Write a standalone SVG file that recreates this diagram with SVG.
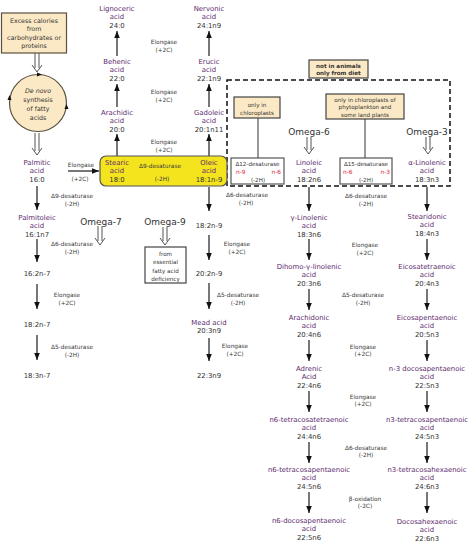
<svg xmlns="http://www.w3.org/2000/svg" width="474" height="545" viewBox="0 0 474 545">
<style>
text{font-family:"DejaVu Sans","Liberation Sans",sans-serif;text-anchor:middle}
.nm{font-size:6.9px;fill:#5e2a6e}
.num{font-size:6.9px;fill:#333}
.enz{font-size:5.8px;fill:#3a3a3a}
.om{font-size:9px;fill:#333}
.bx{font-size:6.3px;fill:#333}
.sm{font-size:5.6px;fill:#333}
.red{font-size:5.8px;fill:#e0203a}
.arr{stroke:#555;stroke-width:1.6;fill:none;marker-end:url(#ah)}
.dbl{stroke:#555;stroke-width:1;fill:none}
.beige{fill:#fbe8c4;stroke:#5a5040;stroke-width:1.2}
.white{fill:#fff;stroke:#555;stroke-width:1.2}
.ln{stroke:#333;stroke-width:1;fill:none}
</style>
<defs>
<marker id="ah" viewBox="0 0 10 8" refX="10" refY="4" markerWidth="7" markerHeight="5.6" markerUnits="userSpaceOnUse" orient="auto"><path d="M0,0 L10,4 L0,8 z" fill="#111"/></marker>
</defs>

<!-- connectors -->
<g id="connectors">
<path class="dbl" d="M35,53 V68 M39,53 V68 M32,65 L37,72 L42,65"/>
<path class="dbl" d="M35,133 V151 M39,133 V151 M32,148 L37,155 L42,148"/>
<path class="dbl" d="M98,226 V241 M102,226 V241 M95,238 L100,245 L105,238"/>
<path class="dbl" d="M163,227 V241 M167,227 V241 M160,238 L165,245 L170,238"/>
<path class="dbl" d="M307,137 V150 M311,137 V150 M304,147 L309,154 L314,147"/>
<path class="dbl" d="M426,137 V150 M430,137 V150 M423,147 L428,154 L433,147"/>
<line class="arr" x1="68" y1="171" x2="99" y2="171"/>
<line class="arr" x1="134" y1="171" x2="178" y2="171"/>
<line class="arr" x1="37" y1="186" x2="37" y2="210"/>
<line class="arr" x1="37" y1="239" x2="37" y2="262"/>
<line class="arr" x1="37" y1="284" x2="37" y2="309"/>
<line class="arr" x1="37" y1="335" x2="37" y2="360"/>
<line class="arr" x1="117" y1="156" x2="117" y2="134"/>
<line class="arr" x1="117" y1="107" x2="117" y2="84"/>
<line class="arr" x1="117" y1="56" x2="117" y2="31"/>
<line class="arr" x1="209" y1="156" x2="209" y2="134"/>
<line class="arr" x1="209" y1="107" x2="209" y2="84"/>
<line class="arr" x1="209" y1="56" x2="209" y2="31"/>
<line class="arr" x1="209" y1="187" x2="209" y2="211"/>
<line class="arr" x1="209" y1="235" x2="209" y2="260"/>
<line class="arr" x1="209" y1="283" x2="209" y2="309"/>
<line class="arr" x1="209" y1="338" x2="209" y2="361"/>
<line class="arr" x1="309" y1="187" x2="309" y2="211"/>
<line class="arr" x1="309" y1="239" x2="309" y2="260"/>
<line class="arr" x1="309" y1="289" x2="309" y2="310"/>
<line class="arr" x1="309" y1="340" x2="309" y2="361"/>
<line class="arr" x1="309" y1="391" x2="309" y2="412"/>
<line class="arr" x1="309" y1="442" x2="309" y2="463"/>
<line class="arr" x1="309" y1="492" x2="309" y2="513"/>
<line class="arr" x1="427" y1="187" x2="427" y2="211"/>
<line class="arr" x1="427" y1="239" x2="427" y2="260"/>
<line class="arr" x1="427" y1="289" x2="427" y2="310"/>
<line class="arr" x1="427" y1="340" x2="427" y2="361"/>
<line class="arr" x1="427" y1="391" x2="427" y2="412"/>
<line class="arr" x1="427" y1="442" x2="427" y2="463"/>
<line class="arr" x1="427" y1="492" x2="427" y2="513"/>
<line class="ln" x1="258" y1="118" x2="258" y2="158"/>
<line class="ln" x1="365" y1="119" x2="365" y2="158"/>
<line class="arr" x1="248" y1="172" x2="271" y2="172" style="stroke:#222;stroke-width:1.2"/>
<line class="arr" x1="356" y1="172" x2="379" y2="172" style="stroke:#222;stroke-width:1.2"/>
</g>

<g id="diet-region">
<rect x="227" y="80" width="223" height="106" fill="none" stroke="#111" stroke-width="1.5" stroke-dasharray="5,3"/>
</g>

<g id="excess">
<rect class="beige" x="1.5" y="13" width="65" height="40"/>
<text class="bx" x="34" y="22.5">Excess calories</text>
<text class="bx" x="34" y="31">from</text>
<text class="bx" x="34" y="39.5">carbohydrates or</text>
<text class="bx" x="34" y="48">proteins</text>
</g>

<g id="denovo">
<circle class="beige" cx="38" cy="103" r="28.5"/>
<path d="M37,72.5 L42,74.5 L37,76.5 z" fill="#111"/>
<path d="M64.5,109 L66.5,104 L68.5,109 z" fill="#111"/>
<path d="M7.5,100 L9.5,95 L11.5,100 z" fill="#111"/>
<text class="bx" x="38" y="92.5" font-style="italic">De novo</text>
<text class="bx" x="38" y="101.5">synthesis</text>
<text class="bx" x="38" y="110.5">of fatty</text>
<text class="bx" x="38" y="119.5">acids</text>
</g>

<g id="palmitic"><text class="nm" x="37" y="164.5">Palmitic</text><text class="nm" x="37" y="173">acid</text><text class="num" x="37" y="181.5">16:0</text></g>
<g id="palmitoleic"><text class="nm" x="37" y="219.5">Palmitoleic</text><text class="nm" x="37" y="228">acid</text><text class="num" x="37" y="236.5">16:1n7</text></g>
<g id="n7-16-2"><text class="num" x="37" y="275.5">16:2n-7</text></g>
<g id="n7-18-2"><text class="num" x="37" y="326.5">18:2n-7</text></g>
<g id="n7-18-3"><text class="num" x="37" y="377.5">18:3n-7</text></g>

<g id="stearic-oleic">
<rect x="100" y="156" width="127" height="30" rx="6" fill="#f3e41e" stroke="#555" stroke-width="1.2"/>
<text class="nm" x="117" y="164.5">Stearic</text><text class="nm" x="117" y="173">acid</text><text class="num" x="117" y="181.5">18:0</text>
<text class="enz" x="160" y="168">Δ9-desaturase</text>
<text class="enz" x="162" y="181">(-2H)</text>
<text class="nm" x="209" y="164.5">Oleic</text><text class="nm" x="209" y="173">acid</text><text class="num" x="209" y="181.5">18:1n-9</text>
</g>

<g id="arachidic"><text class="nm" x="117" y="114.5">Arachidic</text><text class="nm" x="117" y="123">acid</text><text class="num" x="117" y="131.5">20:0</text></g>
<g id="behenic"><text class="nm" x="117" y="63.5">Behenic</text><text class="nm" x="117" y="72">acid</text><text class="num" x="117" y="80.5">22:0</text></g>
<g id="lignoceric"><text class="nm" x="117" y="10.5">Lignoceric</text><text class="nm" x="117" y="19">acid</text><text class="num" x="117" y="27.5">24:0</text></g>
<g id="gadoleic"><text class="nm" x="209" y="114.5">Gadoleic</text><text class="nm" x="209" y="123">acid</text><text class="num" x="209" y="131.5">20:1n11</text></g>
<g id="erucic"><text class="nm" x="209" y="63.5">Erucic</text><text class="nm" x="209" y="72">acid</text><text class="num" x="209" y="80.5">22:1n9</text></g>
<g id="nervonic"><text class="nm" x="209" y="10.5">Nervonic</text><text class="nm" x="209" y="19">acid</text><text class="num" x="209" y="27.5">24:1n9</text></g>

<g id="n9-18-2"><text class="num" x="209" y="227.5">18:2n-9</text></g>
<g id="n9-20-2"><text class="num" x="209" y="275.5">20:2n-9</text></g>
<g id="mead"><text class="nm" x="209" y="324.5">Mead acid</text><text class="num" x="209" y="333">20:3n9</text></g>
<g id="n9-22-3"><text class="num" x="209" y="377.5">22:3n9</text></g>

<g id="deficiency">
<rect class="white" x="145" y="247" width="41" height="36" style="stroke:#444"/>
<text class="sm" x="165.5" y="255.5">from</text>
<text class="sm" x="165.5" y="264">essential</text>
<text class="sm" x="165.5" y="272.5">fatty acid</text>
<text class="sm" x="165.5" y="281">deficiency</text>
</g>

<g id="omega-labels">
<text class="om" x="101" y="224.5">Omega-7</text>
<text class="om" x="165" y="224.5">Omega-9</text>
<text class="om" x="309" y="134.5">Omega-6</text>
<text class="om" x="427" y="135">Omega-3</text>
</g>

<g id="not-animals">
<rect class="beige" x="309" y="60" width="59" height="18" style="stroke:#444"/>
<text class="sm" x="338.5" y="67.5" font-weight="bold">not in animals</text>
<text class="sm" x="338.5" y="75" font-weight="bold">only from diet</text>
</g>
<g id="chloro">
<rect class="beige" x="234" y="97" width="46" height="21" style="stroke:#444"/>
<text class="sm" x="257" y="107">only in</text>
<text class="sm" x="257" y="114.5">chloroplasts</text>
</g>
<g id="phyto">
<rect class="beige" x="326" y="94" width="78" height="25" style="stroke:#444"/>
<text class="sm" x="365" y="101.5">only in chloroplasts of</text>
<text class="sm" x="365" y="109">phytoplankton and</text>
<text class="sm" x="365" y="116.5">some land plants</text>
</g>
<g id="d12">
<rect class="white" x="231" y="158" width="53" height="26"/>
<text class="sm" x="257.5" y="166">Δ12-desaturase</text>
<text class="red" x="236" y="174" style="text-anchor:start">n-9</text>
<text class="red" x="281" y="174" style="text-anchor:end">n-6</text>
<text class="sm" x="258" y="181.5">(-2H)</text>
</g>
<g id="d15">
<rect class="white" x="340" y="158" width="52" height="26"/>
<text class="sm" x="366" y="166">Δ15-desaturase</text>
<text class="red" x="343" y="174" style="text-anchor:start">n-6</text>
<text class="red" x="390" y="174" style="text-anchor:end">n-3</text>
<text class="sm" x="366" y="181.5">(-2H)</text>
</g>

<g id="linoleic"><text class="nm" x="309" y="164.5">Linoleic</text><text class="nm" x="309" y="173">acid</text><text class="num" x="309" y="181.5">18:2n6</text></g>
<g id="gla"><text class="nm" x="309" y="219.5">γ-Linolenic</text><text class="nm" x="309" y="228">acid</text><text class="num" x="309" y="236.5">18:3n6</text></g>
<g id="dgla"><text class="nm" x="309" y="268.5">Dihomo-γ-linolenic</text><text class="nm" x="309" y="277">acid</text><text class="num" x="309" y="285.5">20:3n6</text></g>
<g id="arachidonic"><text class="nm" x="309" y="319.5">Arachidonic</text><text class="nm" x="309" y="328">acid</text><text class="num" x="309" y="336.5">20:4n6</text></g>
<g id="adrenic"><text class="nm" x="309" y="370.5">Adrenic</text><text class="nm" x="309" y="379">Acid</text><text class="num" x="309" y="387.5">22:4n6</text></g>
<g id="n6-tta"><text class="nm" x="309" y="421.5">n6-tetracosatetraenoic</text><text class="nm" x="309" y="430">acid</text><text class="num" x="309" y="438.5">24:4n6</text></g>
<g id="n6-tpa"><text class="nm" x="309" y="471.5">n6-tetracosapentaenoic</text><text class="nm" x="309" y="480">acid</text><text class="num" x="309" y="488.5">24:5n6</text></g>
<g id="n6-dpa"><text class="nm" x="309" y="522.5">n6-docosapentaenoic</text><text class="nm" x="309" y="531">acid</text><text class="num" x="309" y="539.5">22:5n6</text></g>

<g id="ala"><text class="nm" x="427" y="164.5">α-Linolenic</text><text class="nm" x="427" y="173">acid</text><text class="num" x="427" y="181.5">18:3n3</text></g>
<g id="sda"><text class="nm" x="427" y="218.5">Stearidonic</text><text class="nm" x="427" y="227">acid</text><text class="num" x="427" y="235.5">18:4n3</text></g>
<g id="eta"><text class="nm" x="427" y="268.5">Eicosatetraenoic</text><text class="nm" x="427" y="277">acid</text><text class="num" x="427" y="285.5">20:4n3</text></g>
<g id="epa"><text class="nm" x="427" y="319.5">Eicosapentaenoic</text><text class="nm" x="427" y="328">acid</text><text class="num" x="427" y="336.5">20:5n3</text></g>
<g id="n3-dpa"><text class="nm" x="427" y="370.5">n-3 docosapentaenoic</text><text class="nm" x="427" y="379">acid</text><text class="num" x="427" y="387.5">22:5n3</text></g>
<g id="n3-tpa"><text class="nm" x="427" y="421.5">n3-tetracosapentaenoic</text><text class="nm" x="427" y="430">acid</text><text class="num" x="427" y="438.5">24:5n3</text></g>
<g id="n3-tha"><text class="nm" x="427" y="471.5">n3-tetracosahexaenoic</text><text class="nm" x="427" y="480">acid</text><text class="num" x="427" y="488.5">24:6n3</text></g>
<g id="dha"><text class="nm" x="427" y="523.5">Docosahexaenoic</text><text class="nm" x="427" y="532">acid</text><text class="num" x="427" y="540.5">22:6n3</text></g>

<g id="enzyme-labels">
<text class="enz" x="164" y="44">Elongase</text><text class="enz" x="164" y="51.5">(+2C)</text>
<text class="enz" x="164" y="94">Elongase</text><text class="enz" x="164" y="101.5">(+2C)</text>
<text class="enz" x="164" y="144">Elongase</text><text class="enz" x="164" y="151.5">(+2C)</text>
<text class="enz" x="81" y="167">Elongase</text><text class="enz" x="80" y="181">(+2C)</text>
<text class="enz" x="72" y="198">Δ9-desaturase</text><text class="enz" x="72" y="205.5">(-2H)</text>
<text class="enz" x="72" y="246">Δ6-desaturase</text><text class="enz" x="72" y="253.5">(-2H)</text>
<text class="enz" x="67" y="297">Elongase</text><text class="enz" x="67" y="304.5">(+2C)</text>
<text class="enz" x="72" y="349">Δ5-desaturase</text><text class="enz" x="72" y="356.5">(-2H)</text>
<text class="enz" x="247" y="197">Δ6-desaturase</text><text class="enz" x="246" y="205">(-2H)</text>
<text class="enz" x="237" y="246">Elongase</text><text class="enz" x="237" y="254">(+2C)</text>
<text class="enz" x="238" y="297">Δ5-desaturase</text><text class="enz" x="238" y="305">(-2H)</text>
<text class="enz" x="235" y="348">Elongase</text><text class="enz" x="235" y="355.5">(+2C)</text>
<text class="enz" x="366" y="198">Δ6-desaturase</text><text class="enz" x="366" y="205.5">(-2H)</text>
<text class="enz" x="365" y="247">Elongase</text><text class="enz" x="365" y="254.5">(+2C)</text>
<text class="enz" x="363" y="297">Δ5-desaturase</text><text class="enz" x="363" y="305">(-2H)</text>
<text class="enz" x="363" y="349">Elongase</text><text class="enz" x="363" y="356">(+2C)</text>
<text class="enz" x="363" y="399">Elongase</text><text class="enz" x="363" y="405.5">(+2C)</text>
<text class="enz" x="366" y="450">Δ6-desaturase</text><text class="enz" x="366" y="456.5">(-2H)</text>
<text class="enz" x="365" y="501">β-oxidation</text><text class="enz" x="365" y="508">(-2C)</text>
</g>
</svg>
